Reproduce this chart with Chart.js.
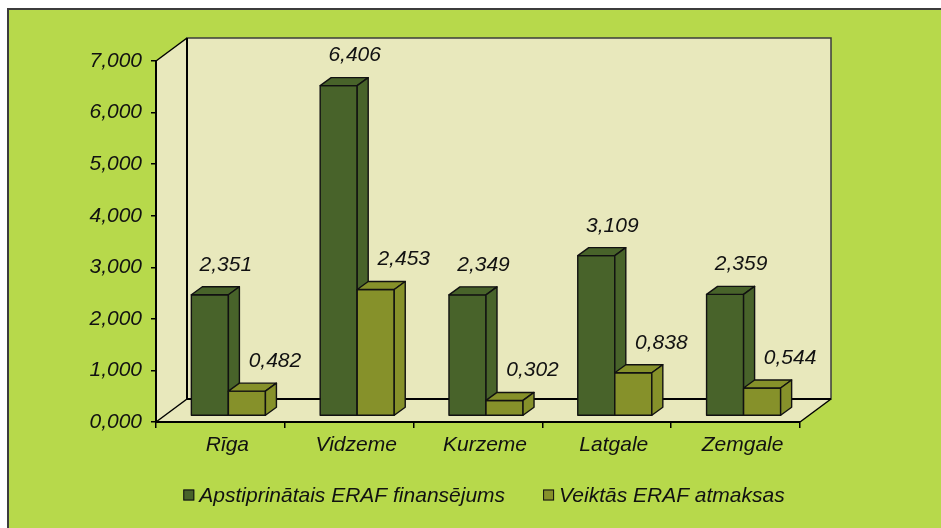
<!DOCTYPE html>
<html>
<head>
<meta charset="utf-8">
<script src="https://cdn.jsdelivr.net/npm/chart.js@4/dist/chart.umd.min.js"></script>
<style>
  html, body { margin: 0; padding: 0; background: #ffffff; }
  canvas { display: block; }
</style>
</head>
<body>
<canvas id="chart" width="941" height="528"></canvas>
<script>
// data (millions, Latvian decimal comma)
const categories = ["Rīga", "Vidzeme", "Kurzeme", "Latgale", "Zemgale"];
const approved = [2.351, 6.406, 2.349, 3.109, 2.359];
const paid = [0.482, 2.453, 0.302, 0.838, 0.544];
const seriesNames = ["Apstiprinātais ERAF finansējums", "Veiktās ERAF atmaksas"];
const yMax = 7;
const yStep = 1;

// styles
const seriesColors = ["#48632a", "#86912a"];
const FONT = '"Liberation Sans", Arial, sans-serif';
const FONT_SIZE = 21;
const GREEN = "#b7d94b";
const WALL_FILL = "#e8e8bc";
const WALL = { dx: 31, dy: 23 };      // depth of the whole plot box
const BAR_SHIFT = { dx: 8, dy: 6 };   // bars sit a bit behind the front plane
const BAR_DEPTH = { dx: 11, dy: 8 };
const LABEL_OFF = [16, 28];           // label x offset from bar front centre

function fmt(v) {
    return v.toFixed(3).replace(".", ",");
}

function poly(ctx, pts, fill, stroke, lw) {
    ctx.beginPath();
    ctx.moveTo(pts[0][0], pts[0][1]);
    for (let i = 1; i < pts.length; i++) ctx.lineTo(pts[i][0], pts[i][1]);
    ctx.closePath();
    if (fill) { ctx.fillStyle = fill; ctx.fill(); }
    if (stroke) { ctx.strokeStyle = stroke; ctx.lineWidth = lw || 1; ctx.stroke(); }
}

function line(ctx, pts, color, lw) {
    ctx.beginPath();
    ctx.moveTo(pts[0][0], pts[0][1]);
    for (let i = 1; i < pts.length; i++) ctx.lineTo(pts[i][0], pts[i][1]);
    ctx.strokeStyle = color;
    ctx.lineWidth = lw;
    ctx.stroke();
}

const box3d = {
    id: "box3d",
    beforeDraw(chart) {
        const ctx = chart.ctx;
        const a = chart.chartArea;
        ctx.save();
        ctx.fillStyle = "#ffffff";
        ctx.fillRect(0, 0, chart.width, chart.height);
        ctx.fillStyle = GREEN;
        ctx.fillRect(8, 9, chart.width, chart.height);
        line(ctx, [[8, chart.height], [8, 9], [chart.width, 9]], "#3c3c3c", 2);

        const bl = a.left + WALL.dx, bt = a.top - WALL.dy;
        const br = a.right + WALL.dx, bb = a.bottom - WALL.dy;
        // back wall
        poly(ctx, [[bl, bt], [br, bt], [br, bb], [bl, bb]], WALL_FILL, "#3c3c3c", 1.5);
        // left wall
        poly(ctx, [[a.left, a.top], [bl, bt], [bl, bb], [a.left, a.bottom]], WALL_FILL);
        // floor
        poly(ctx, [[a.left, a.bottom], [a.right, a.bottom], [br, bb], [bl, bb]], WALL_FILL);
        line(ctx, [[bl, bt], [bl, bb], [br, bb]], "#000", 2);
        line(ctx, [[a.left, a.top], [bl, bt]], "#000", 1.5);
        line(ctx, [[a.left, a.bottom], [bl, bb]], "#000", 1.5);
        line(ctx, [[a.right, a.bottom], [br, bb]], "#000", 1.5);
        ctx.restore();
    },
    afterDatasetsDraw(chart) {
        const ctx = chart.ctx;
        const n = chart.data.labels.length;
        ctx.save();
        ctx.lineJoin = "round";
        for (let i = 0; i < n; i++) {
            chart.data.datasets.forEach((ds, d) => {
                const el = chart.getDatasetMeta(d).data[i];
                const p = el.getProps(["x", "y", "base", "width"], true);
                const x0 = p.x - p.width / 2 + BAR_SHIFT.dx;
                const x1 = p.x + p.width / 2 + BAR_SHIFT.dx;
                const yt = p.y - BAR_SHIFT.dy;
                const yb = p.base - BAR_SHIFT.dy;
                const c = seriesColors[d];
                poly(ctx, [[x0, yt], [x1, yt], [x1, yb], [x0, yb]], c, "#111", 1.4);
                poly(ctx, [[x0, yt], [x1, yt], [x1 + BAR_DEPTH.dx, yt - BAR_DEPTH.dy], [x0 + BAR_DEPTH.dx, yt - BAR_DEPTH.dy]], c, "#111", 1.4);
                poly(ctx, [[x1, yt], [x1 + BAR_DEPTH.dx, yt - BAR_DEPTH.dy], [x1 + BAR_DEPTH.dx, yb - BAR_DEPTH.dy], [x1, yb]], c, "#111", 1.4);
            });
        }
        // value labels
        ctx.font = "italic " + FONT_SIZE + "px " + FONT;
        ctx.fillStyle = "#111";
        ctx.textAlign = "center";
        ctx.textBaseline = "middle";
        chart.data.datasets.forEach((ds, d) => {
            chart.getDatasetMeta(d).data.forEach((el, i) => {
                const p = el.getProps(["x", "y"], true);
                ctx.fillText(fmt(ds.data[i]), p.x + BAR_SHIFT.dx + LABEL_OFF[d], p.y - BAR_SHIFT.dy - 30);
            });
        });
        ctx.restore();
    },
    afterDraw(chart) {
        // legend
        const ctx = chart.ctx;
        const a = chart.chartArea;
        ctx.save();
        ctx.font = "italic " + FONT_SIZE + "px " + FONT;
        ctx.textBaseline = "middle";
        ctx.textAlign = "left";
        const box = 11, gapText = 5, gapItem = 38;
        const widths = chart.data.datasets.map(ds => ctx.measureText(ds.label).width);
        let total = 0;
        widths.forEach((w, d) => { total += box + gapText + w + (d ? gapItem : 0); });
        let x = (a.left + a.right) / 2 + 6 - total / 2;
        const yc = 495;
        chart.data.datasets.forEach((ds, d) => {
            ctx.fillStyle = seriesColors[d];
            ctx.fillRect(x, yc - box / 2, box, box);
            ctx.strokeStyle = "#111";
            ctx.lineWidth = 1;
            ctx.strokeRect(x + 0.5, yc - box / 2 + 0.5, box - 1, box - 1);
            ctx.fillStyle = "#111";
            ctx.fillText(ds.label, x + box + gapText, yc + 1);
            x += box + gapText + widths[d] + gapItem;
        });
        ctx.restore();
    }
};

new Chart(document.getElementById("chart"), {
    type: "bar",
    data: {
        labels: categories,
        datasets: [
            { label: seriesNames[0], data: approved },
            { label: seriesNames[1], data: paid }
        ].map(ds => Object.assign(ds, {
            backgroundColor: "rgba(0,0,0,0)",
            borderWidth: 0,
            barPercentage: 1,
            categoryPercentage: 0.575
        }))
    },
    options: {
        responsive: false,
        animation: false,
        devicePixelRatio: 1,
        layout: { padding: { top: 61, right: 141, bottom: 0, left: 0 } },
        plugins: {
            legend: { display: false },
            tooltip: { enabled: false }
        },
        scales: {
            x: {
                offset: true,
                grid: { offset: true, drawOnChartArea: false, drawTicks: true, tickLength: 6, color: "#000", lineWidth: 1.5 },
                border: { display: true, color: "#000", width: 2 },
                ticks: { color: "#111", font: { family: FONT, size: FONT_SIZE, style: "italic" }, padding: 5, labelOffset: 7, maxRotation: 0 },
                afterFit(s) { s.height = 106; }
            },
            y: {
                min: 0,
                max: yMax,
                ticks: { stepSize: yStep, color: "#111", font: { family: FONT, size: FONT_SIZE, style: "italic" }, padding: 9, callback: v => fmt(v) },
                grid: { drawOnChartArea: false, drawTicks: true, tickLength: 5, color: "#000", lineWidth: 1.5 },
                border: { display: true, color: "#000", width: 2 },
                afterFit(s) { s.width = 156; }
            }
        }
    },
    plugins: [box3d]
});
</script>
</body>
</html>
